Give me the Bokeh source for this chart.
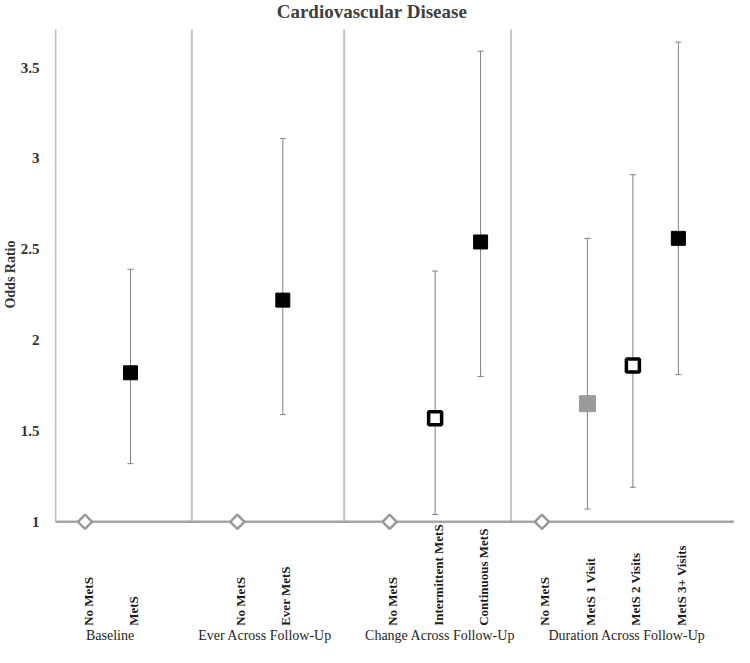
import math
from bokeh.plotting import figure
from bokeh.models import (ColumnDataSource, Whisker, TeeHead, LabelSet, Label,
                          FixedTicker, Range1d, Title)
from bokeh.embed import file_html
from bokeh.resources import INLINE

# ---- data ----
labels = ["No MetS", "MetS", "No MetS", "Ever MetS", "No MetS",
          "Intermittent MetS", "Continuous MetS", "No MetS",
          "MetS 1 Visit", "MetS 2 Visits", "MetS 3+ Visits"]
x_pos = [0.65, 1.65, 4.0, 5.0, 7.35, 8.35, 9.35, 10.7, 11.7, 12.7, 13.7]
odds = [1.0, 1.82, 1.0, 2.22, 1.0, 1.57, 2.54, 1.0, 1.65, 1.86, 2.56]
lower = [None, 1.32, None, 1.59, None, 1.04, 1.80, None, 1.07, 1.19, 1.81]
upper = [None, 2.39, None, 3.11, None, 2.38, 3.59, None, 2.56, 2.91, 3.64]
style = ["ref", "filled", "ref", "filled", "ref", "open", "filled", "ref",
         "gray", "open", "filled"]

groups = ["Baseline", "Ever Across Follow-Up", "Change Across Follow-Up",
          "Duration Across Follow-Up"]
group_x = [1.2, 4.61, 8.46, 12.57]
dividers = [0.0, 3.0, 6.35, 10.02]

y_ticks = [1, 1.5, 2, 2.5, 3, 3.5]
y_tick_labels = ["1", "1.5", "2", "2.5", "3", "3.5"]
y_base = 1.0
y_top = 3.709

SERIF = "Liberation Serif"

X0, X1 = -0.0217, 14.935
Y0, Y1 = 0.3082, 3.869

p = figure(width=734, height=647, output_backend="svg", toolbar_location=None,
           x_range=Range1d(X0, X1), y_range=Range1d(Y0, Y1),
           x_axis_location=None, min_border_left=46, min_border_right=0,
           min_border_top=0, min_border_bottom=0)
p.outline_line_color = None
p.grid.visible = False
p.background_fill_color = "white"

# y axis
ax = p.yaxis[0]
ax.ticker = FixedTicker(ticks=y_ticks)
ax.major_label_overrides = {t: l for t, l in zip(y_ticks, y_tick_labels)}
ax.major_tick_line_color = None
ax.minor_tick_line_color = None
ax.axis_line_color = None
ax.major_label_standoff = 9
ax.major_label_text_font = SERIF
ax.major_label_text_font_style = "bold"
ax.major_label_text_font_size = "15px"
ax.major_label_text_color = "#333333"

# y-axis title, placed beside the axis
p.add_layout(Title(text="Odds Ratio", align="right", offset=240, standoff=0,
                   text_font=SERIF, text_font_style="bold", text_font_size="14px",
                   text_color="#333333"), "left")

# dividers (incl. the vertical axis line) and baseline at OR = 1
p.segment(x0=dividers, y0=[y_base] * len(dividers), x1=dividers,
          y1=[y_top] * len(dividers), line_color="#c4c4c4", line_width=2)
p.segment(x0=[0.0], y0=[y_base], x1=[X1], y1=[y_base],
          line_color="#a6a6a6", line_width=2.5)

# error bars
ci_idx = [i for i in range(len(odds)) if lower[i] is not None]
ci_src = ColumnDataSource(dict(x=[x_pos[i] for i in ci_idx],
                               lower=[lower[i] for i in ci_idx],
                               upper=[upper[i] for i in ci_idx]))
p.add_layout(Whisker(base="x", lower="lower", upper="upper", source=ci_src,
                     dimension="height", line_color="#808080", line_width=1,
                     upper_head=TeeHead(size=6, line_color="#808080", line_width=1),
                     lower_head=TeeHead(size=6, line_color="#808080", line_width=1)))

def sub(kind):
    idx = [i for i in range(len(odds)) if style[i] == kind]
    return ColumnDataSource(dict(x=[x_pos[i] for i in idx], y=[odds[i] for i in idx]))

p.scatter("x", "y", source=sub("ref"), marker="square", angle=math.pi / 4,
          size=10, fill_color="white", line_color="#999999", line_width=2.5)
p.scatter("x", "y", source=sub("filled"), marker="square", size=14,
          fill_color="black", line_color="black", line_width=1)
p.scatter("x", "y", source=sub("open"), marker="square", size=13,
          fill_color="white", line_color="black", line_width=3.5)
p.scatter("x", "y", source=sub("gray"), marker="square", size=16,
          fill_color="#9a9a9a", line_color="#9a9a9a", line_width=1)

# category labels (vertical, bottom aligned)
cat_src = ColumnDataSource(dict(x=x_pos, text=labels, y=[y_base] * len(labels)))
p.add_layout(LabelSet(x="x", y="y", text="text", source=cat_src, angle=math.pi / 2,
                      x_offset=3, y_offset=-104, text_align="left",
                      text_baseline="middle", text_font=SERIF,
                      text_font_style="bold", text_font_size="13px",
                      text_color="#1a1a1a"))

# group labels
grp_src = ColumnDataSource(dict(x=group_x, text=groups, y=[y_base] * len(groups)))
p.add_layout(LabelSet(x="x", y="y", text="text", source=grp_src, y_offset=-114,
                      text_align="center", text_baseline="middle", text_font=SERIF,
                      text_font_size="14px", text_color="#262626"))

# title
p.add_layout(Label(x=6.96, y=Y1, text="Cardiovascular Disease",
                   text_align="center", text_baseline="top", text_font=SERIF,
                   text_font_style="bold", text_font_size="19px",
                   text_color="#404040"))

open("out.html", "w").write(file_html(p, INLINE))
